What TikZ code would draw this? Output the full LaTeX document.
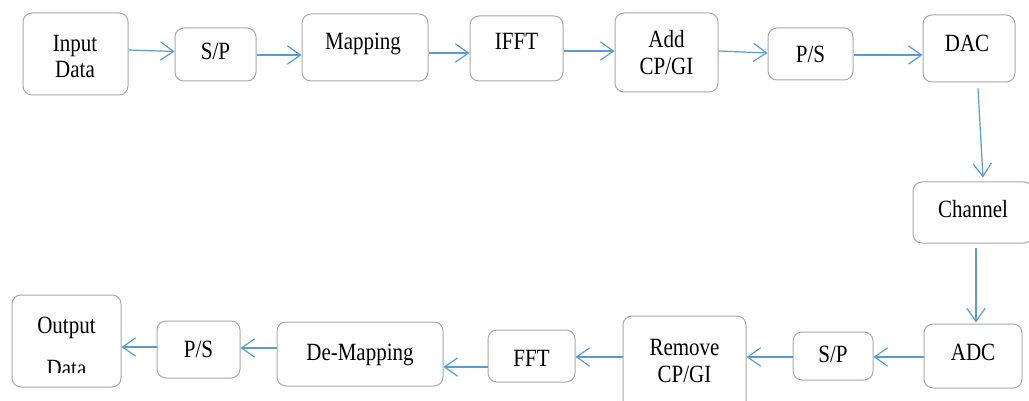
\documentclass[tikz,border=0pt]{standalone}
\usepackage{fontspec}
\setmainfont{Liberation Serif}
\usetikzlibrary{arrows.meta}
\definecolor{boxline}{HTML}{A9A9A9}
\definecolor{flow}{HTML}{5B9BD5}
\newcommand\tline[1]{\scalebox{1}[1.18]{#1}}
\tikzset{
  blk/.style={draw=boxline, line width=1pt, rounded corners=9pt, fill=white, inner sep=0pt},
  lbl/.style={anchor=base, inner sep=0pt, font=\fontsize{21}{26}\selectfont},
  arr/.style={draw=flow, line width=1.2pt, -{Straight Barb[angle=70:16pt,line width=1.2pt]}}
}
\begin{document}
\begin{tikzpicture}[x=1pt,y=1pt]
\useasboundingbox (0,0) rectangle (1029,-401);
\fill[white] (0,0) rectangle (1029,-401);

% transmitter chain (top row)
\node[blk, minimum width=105, minimum height=82] (inp) at (75.5,-54) {};
\node[blk, minimum width=81,  minimum height=53] (sp1) at (215.5,-54.5) {};
\node[blk, minimum width=126, minimum height=67] (map) at (365,-47.5) {};
\node[blk, minimum width=93,  minimum height=65] (ifft) at (516.5,-48.5) {};
\node[blk, minimum width=103, minimum height=79] (addcp) at (666.5,-52.5) {};
\node[blk, minimum width=85,  minimum height=52] (ps1) at (810.5,-54) {};
\node[blk, minimum width=92,  minimum height=67] (dac) at (969,-48.5) {};

% channel
\node[blk, minimum width=120, minimum height=61] (chan) at (973,-212.5) {};

% receiver chain (bottom row)
\node[blk, minimum width=98,  minimum height=64] (adc) at (973,-356) {};
\node[blk, minimum width=80,  minimum height=48] (sp2) at (833,-356) {};
\node[blk, minimum width=123, minimum height=94] (remcp) at (684.5,-363) {};
\node[blk, minimum width=87,  minimum height=52] (fft) at (531.5,-356) {};
\node[blk, minimum width=166, minimum height=64] (demap) at (360,-354) {};
\node[blk, minimum width=83,  minimum height=57] (ps2) at (198.5,-349.5) {};
\node[blk, minimum width=109, minimum height=92] (outp) at (66.5,-341) {};

% labels
\node[lbl] (tInp1) at (75,-52) {\tline{Input}};
\node[lbl] (tInp2) at (75,-78) {\tline{Data}};
\node[lbl] (tSp1) at (215.5,-60) {\tline{S/P}};
\node[lbl] (tMap) at (363,-50) {\tline{Mapping}};
\node[lbl] (tIfft) at (516.5,-50) {\tline{IFFT}};
\node[lbl] (tAdd1) at (666.5,-48) {\tline{Add}};
\node[lbl] (tAdd2) at (666.5,-75) {\tline{CP/GI}};
\node[lbl] (tPs1) at (810.5,-63) {\tline{P/S}};
\node[lbl] (tDac) at (967,-52) {\tline{DAC}};
\node[lbl] (tChan) at (973,-218) {\tline{Channel}};
\node[lbl] (tAdc) at (973,-360) {\tline{ADC}};
\node[lbl] (tSp2) at (833,-362) {\tline{S/P}};
\node[lbl] (tRem1) at (684.5,-355) {\tline{Remove}};
\node[lbl] (tRem2) at (684.5,-382) {\tline{CP/GI}};
\node[lbl] (tFft) at (531.5,-366) {\tline{FFT}};
\node[lbl] (tDemap) at (360,-360) {\tline{De-Mapping}};
\node[lbl] (tPs2) at (198.5,-357) {\tline{P/S}};
\node[lbl] (tOut1) at (66.5,-333) {\tline{Output}};
\begin{scope}
  \clip (20,-355) rectangle (115,-372);
  \node[lbl] (tOut2) at (66.5,-376) {\tline{Data}};
\end{scope}

% signal flow
\draw[arr] ([yshift=4]inp.east) -- ([yshift=3]sp1.west);
\draw[arr] ([yshift=-0.5]sp1.east) -- ([yshift=-7.5]map.west);
\draw[arr] ([yshift=-5.5]map.east) -- ([yshift=-4.5]ifft.west);
\draw[arr] ([yshift=-2.5]ifft.east) -- ([yshift=1.5]addcp.west);
\draw[arr] ([yshift=1.5]addcp.east) -- ([yshift=1]ps1.west);
\draw[arr] ([yshift=-1]ps1.east) -- ([yshift=-6.5]dac.west);
\draw[arr] ([xshift=9,yshift=-6]dac.south) -- ([xshift=10,yshift=4]chan.north);
\draw[arr] ([xshift=3,yshift=-4]chan.south) -- ([xshift=3,yshift=1]adc.north);
\draw[arr] ([yshift=-1]adc.west) -- ([yshift=-1]sp2.west -| sp2.east);
\draw[arr] ([yshift=-1]sp2.west) -- ([yshift=-1]sp2.west -| remcp.east);
\draw[arr] ([yshift=-1]sp2.west -| remcp.west) -- ([yshift=-1]fft.east);
\draw[arr] ([yshift=-11]fft.west) -- ([yshift=-13]demap.east);
\draw[arr] ([yshift=6]demap.west) -- ([yshift=1.5]ps2.east);
\draw[arr] ([yshift=2.5]ps2.west) -- ([yshift=-6]outp.east);
\end{tikzpicture}
\end{document}
